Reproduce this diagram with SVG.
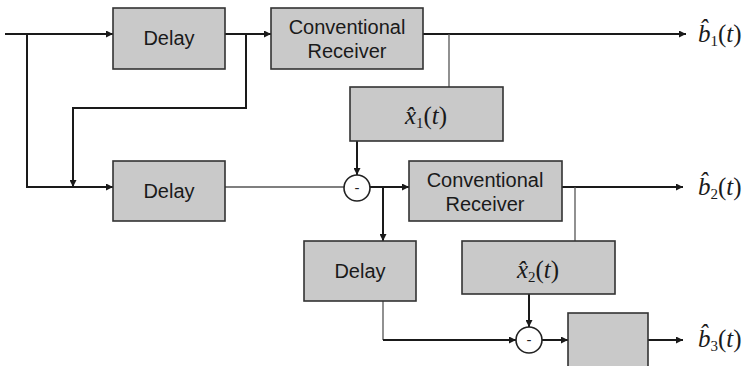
<svg xmlns="http://www.w3.org/2000/svg" width="748" height="366" viewBox="0 0 748 366">
  <style>
    .box { fill: #c9c9c9; stroke: #333; stroke-width: 1.6; }
    .lbl { font-family: "Liberation Sans", Arial, sans-serif; font-size: 20px; fill: #1a1a1a; text-anchor: middle; }
    .math { font-family: "Liberation Serif", "Times New Roman", serif; font-style: italic; font-size: 25px; fill: #1a1a1a; }
    .up { font-style: normal; }
    .sub { font-size: 15px; font-style: normal; }
    .wire { fill: none; stroke: #1a1a1a; stroke-width: 2; }
    .thin { fill: none; stroke: #555; stroke-width: 1.3; }
    .sum { fill: #fff; stroke: #222; stroke-width: 1.6; }
    .minus { font-family: "Liberation Sans", Arial, sans-serif; font-size: 15px; fill: #222; text-anchor: middle; }
  </style>
  <defs>
    <marker id="arr" viewBox="0 0 10 10" refX="10" refY="5" markerWidth="9" markerHeight="7" markerUnits="userSpaceOnUse" orient="auto">
      <path d="M0,0 L10,5 L0,10 z" fill="#1a1a1a"/>
    </marker>
  </defs>
  <rect width="748" height="366" fill="#fff"/>

  <!-- connectors -->
  <g id="connectors">
    <path class="wire" d="M5,34 H113" marker-end="url(#arr)"/>
    <path class="wire" d="M225,34 H271" marker-end="url(#arr)"/>
    <path class="wire" d="M423,34 H686" marker-end="url(#arr)"/>
    <path class="wire" d="M27,34 V187 H113" marker-end="url(#arr)"/>
    <path class="wire" d="M246,34 V108 H73 V187" marker-end="url(#arr)"/>
    <path class="thin" d="M449,34 V87"/>
    <path class="wire" d="M357,141 V175" marker-end="url(#arr)"/>
    <path class="thin" d="M225,187 H344"/>
    <path class="wire" d="M370,187 H409" marker-end="url(#arr)"/>
    <path class="wire" d="M383,187 V241" marker-end="url(#arr)"/>
    <path class="wire" d="M562,187 H683" marker-end="url(#arr)"/>
    <path class="thin" d="M575,187 V241"/>
    <path class="wire" d="M529,294 V327" marker-end="url(#arr)"/>
    <path class="thin" d="M383,301 V340"/>
    <path class="wire" d="M383,340 H516" marker-end="url(#arr)"/>
    <path class="wire" d="M542,340 H568" marker-end="url(#arr)"/>
    <path class="wire" d="M648,340 H683" marker-end="url(#arr)"/>
  </g>

  <!-- stage 1 -->
  <g id="delay1">
    <rect class="box" x="113" y="8" width="112" height="61"/>
    <text class="lbl" x="169" y="45">Delay</text>
  </g>
  <g id="receiver1">
    <rect class="box" x="271" y="8" width="152" height="61"/>
    <text class="lbl" x="347" y="34">Conventional</text>
    <text class="lbl" x="347" y="58">Receiver</text>
  </g>
  <g id="xhat1">
    <rect class="box" x="350" y="87" width="153" height="54"/>
    <text class="math" x="426" y="124" text-anchor="middle">x̂<tspan class="sub" dy="4">1</tspan><tspan class="up" dy="-4">(</tspan>t<tspan class="up">)</tspan></text>
  </g>
  <g id="b1">
    <text class="math" x="698" y="42">b̂<tspan class="sub" dy="4">1</tspan><tspan class="up" dy="-4">(</tspan>t<tspan class="up">)</tspan></text>
  </g>

  <!-- stage 2 -->
  <g id="delay2">
    <rect class="box" x="113" y="161" width="112" height="60"/>
    <text class="lbl" x="169" y="198">Delay</text>
  </g>
  <g id="sum1">
    <circle class="sum" cx="357" cy="188" r="13"/>
    <text class="minus" x="357" y="193">-</text>
  </g>
  <g id="receiver2">
    <rect class="box" x="409" y="161" width="153" height="60"/>
    <text class="lbl" x="485" y="187">Conventional</text>
    <text class="lbl" x="485" y="211">Receiver</text>
  </g>
  <g id="xhat2">
    <rect class="box" x="462" y="241" width="153" height="53"/>
    <text class="math" x="538" y="278" text-anchor="middle">x̂<tspan class="sub" dy="4">2</tspan><tspan class="up" dy="-4">(</tspan>t<tspan class="up">)</tspan></text>
  </g>
  <g id="b2">
    <text class="math" x="698" y="195">b̂<tspan class="sub" dy="4">2</tspan><tspan class="up" dy="-4">(</tspan>t<tspan class="up">)</tspan></text>
  </g>

  <!-- stage 3 -->
  <g id="delay3">
    <rect class="box" x="304" y="241" width="112" height="60"/>
    <text class="lbl" x="360" y="278">Delay</text>
  </g>
  <g id="sum2">
    <circle class="sum" cx="529" cy="340" r="13"/>
    <text class="minus" x="529" y="345">-</text>
  </g>
  <g id="receiver3">
    <rect class="box" x="568" y="313" width="80" height="60"/>
  </g>
  <g id="b3">
    <text class="math" x="698" y="347">b̂<tspan class="sub" dy="4">3</tspan><tspan class="up" dy="-4">(</tspan>t<tspan class="up">)</tspan></text>
  </g>
</svg>
